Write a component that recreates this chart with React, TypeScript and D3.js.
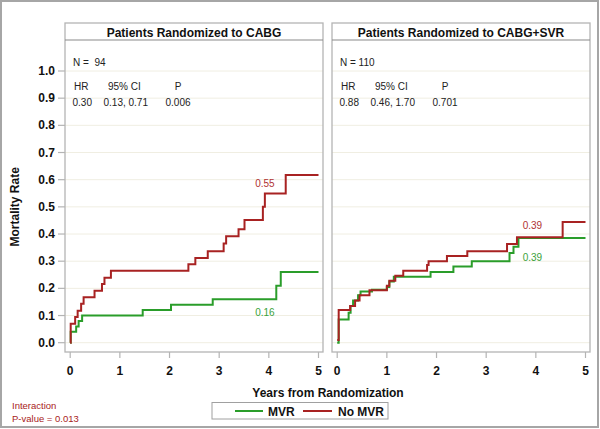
import React from 'react';
import * as d3 from 'd3';

// Kaplan-Meier style step data
const cabgMvrTimes = [0, 0.01, 0.12, 0.17, 0.24, 1.46, 2.03, 2.87, 4.15, 4.24, 5.0];
const cabgMvrRates = [0, 0.04, 0.06, 0.08, 0.10, 0.12, 0.14, 0.16, 0.21, 0.26, 0.26];

const cabgNoMvrTimes = [0, 0.01, 0.10, 0.15, 0.22, 0.27, 0.49, 0.64, 0.69, 0.82, 2.38, 2.52, 2.77, 3.09, 3.14, 3.39, 3.51, 3.88, 3.92, 4.34, 5.0];
const cabgNoMvrRates = [0, 0.07, 0.095, 0.118, 0.143, 0.167, 0.191, 0.216, 0.239, 0.265, 0.289, 0.312, 0.337, 0.365, 0.392, 0.418, 0.452, 0.50, 0.549, 0.617, 0.617];

const svrMvrTimes = [0, 0.03, 0.23, 0.27, 0.32, 0.42, 0.47, 0.70, 1.0, 1.05, 1.14, 1.88, 2.34, 2.71, 3.47, 3.55, 3.65, 5.0];
const svrMvrRates = [0, 0.085, 0.11, 0.135, 0.155, 0.175, 0.188, 0.195, 0.205, 0.225, 0.243, 0.26, 0.28, 0.30, 0.33, 0.353, 0.385, 0.385];

const svrNoMvrTimes = [0, 0.03, 0.26, 0.36, 0.45, 0.65, 1.0, 1.05, 1.17, 1.33, 1.81, 1.84, 2.21, 2.62, 3.42, 3.62, 4.54, 5.0];
const svrNoMvrRates = [0.01, 0.12, 0.135, 0.155, 0.175, 0.193, 0.21, 0.228, 0.246, 0.265, 0.286, 0.30, 0.319, 0.337, 0.363, 0.388, 0.444, 0.444];

const xTicks = [0, 1, 2, 3, 4, 5];
const yTicks = [0, 0.1, 0.2, 0.3, 0.4, 0.5, 0.6, 0.7, 0.8, 0.9, 1.0];

const panelTitles = ['Patients Randomized to CABG', 'Patients Randomized to CABG+SVR'];
const panelN = ['N =  94', 'N = 110'];
const panelHR = ['0.30', '0.88'];
const panelCI = ['0.13, 0.71', '0.46, 1.70'];
const panelP = ['0.006', '0.701'];
// end-of-curve labels [x, y] in data units + text
const mvrLabels = [{ x: 3.92, y: 0.098, t: '0.16' }, { x: 3.93, y: 0.30, t: '0.39' }];
const noMvrLabels = [{ x: 3.92, y: 0.572, t: '0.55' }, { x: 3.93, y: 0.418, t: '0.39' }];

const RED = '#a82222';
const GREEN = '#2a9d2a';
const FONT = '"Liberation Sans", Arial, sans-serif';

const panelLefts = [65, 332];
const panelW = 258;
const boxTop = 23;
const headerBottom = 40;
const boxBottom = 352;

const yScale = d3.scaleLinear().domain([0, 1]).range([342.7, 71]);

const stepLine = (times: number[], rates: number[], x: d3.ScaleLinear<number, number>) =>
  d3.line<number>()
    .x((_, i) => x(times[i]))
    .y(d => yScale(d))
    .curve(d3.curveStepAfter)(rates) || '';

const Panel = ({ idx }: { idx: number }) => {
  const left = panelLefts[idx];
  const x = d3.scaleLinear().domain([0, 5]).range([left + 5.2, left + 253.5]);
  const mvr = idx === 0 ? [cabgMvrTimes, cabgMvrRates] : [svrMvrTimes, svrMvrRates];
  const nomvr = idx === 0 ? [cabgNoMvrTimes, cabgNoMvrRates] : [svrNoMvrTimes, svrNoMvrRates];
  return (
    <g>
      {yTicks.map(t => (
        <line key={t} x1={left} x2={left + panelW} y1={yScale(t)} y2={yScale(t)} stroke="#f0eee2" strokeWidth={1} />
      ))}
      <rect x={left} y={boxTop} width={panelW} height={boxBottom - boxTop} fill="none" stroke="#b4b4b4" strokeWidth={1.3} />
      <line x1={left} x2={left + panelW} y1={headerBottom} y2={headerBottom} stroke="#8a8a8a" strokeWidth={1.2} />
      <text x={left + panelW / 2} y={36.5} textAnchor="middle" fontSize={12} fontWeight="bold" fill="#111">{panelTitles[idx]}</text>

      <g fontSize={10} fill="#222">
        <text x={left + 8} y={66} xmlSpace="preserve">{panelN[idx]}</text>
        <text x={left + 9} y={90}>HR</text>
        <text x={left + 43} y={90}>95% CI</text>
        <text x={left + 113} y={90} textAnchor="middle">P</text>
        <text x={left + 7.5} y={106}>{panelHR[idx]}</text>
        <text x={left + 38.5} y={106}>{panelCI[idx]}</text>
        <text x={left + 100.5} y={106}>{panelP[idx]}</text>
      </g>

      <path d={stepLine(mvr[0], mvr[1], x)} fill="none" stroke={GREEN} strokeWidth={2} />
      <path d={stepLine(nomvr[0], nomvr[1], x)} fill="none" stroke={RED} strokeWidth={2} />

      <text x={x(mvrLabels[idx].x)} y={yScale(mvrLabels[idx].y)} textAnchor="middle" fontSize={10} fill="#3aa23a">{mvrLabels[idx].t}</text>
      <text x={x(noMvrLabels[idx].x)} y={yScale(noMvrLabels[idx].y)} textAnchor="middle" fontSize={10} fill="#b03232">{noMvrLabels[idx].t}</text>

      {xTicks.map(t => (
        <g key={t}>
          <line x1={x(t)} x2={x(t)} y1={boxBottom} y2={boxBottom + 6} stroke="#b4b4b4" strokeWidth={1.2} />
          <text x={x(t)} y={375} textAnchor="middle" fontSize={12} fontWeight="bold" fill="#111">{t}</text>
        </g>
      ))}
    </g>
  );
};

const App = () => {
  return (
    <div style={{ position: 'absolute', left: 0, top: 0 }}>
      <svg width={600} height={429} style={{ display: 'block', fontFamily: FONT }}>
        <rect x={0} y={0} width={600} height={429} fill="#fff" />
        <rect x={1} y={1} width={597} height={426} fill="none" stroke="#a6a6a6" strokeWidth={2} />

        {yTicks.map(t => (
          <g key={t}>
            <line x1={58} x2={65} y1={yScale(t)} y2={yScale(t)} stroke="#b4b4b4" strokeWidth={1.2} />
            <text x={55} y={yScale(t) + 4} textAnchor="end" fontSize={12} fontWeight="bold" fill="#111">{t.toFixed(1)}</text>
          </g>
        ))}
        <text transform={`translate(19,${yScale(0.5)}) rotate(-90)`} textAnchor="middle" fontSize={12} fontWeight="bold" fill="#111">Mortality Rate</text>

        <Panel idx={0} />
        <Panel idx={1} />

        <text x={328} y={397} textAnchor="middle" fontSize={12} fontWeight="bold" fill="#111">Years from Randomization</text>

        <rect x={212} y={402.5} width={176} height={16.5} fill="#fff" stroke="#a0a0a0" strokeWidth={1} />
        <line x1={235} x2={263} y1={411} y2={411} stroke={GREEN} strokeWidth={2} />
        <text x={268} y={415.5} fontSize={12} fontWeight="bold" fill="#111">MVR</text>
        <line x1={303} x2={332} y1={411} y2={411} stroke={RED} strokeWidth={2} />
        <text x={338} y={415.5} fontSize={12} fontWeight="bold" fill="#111">No MVR</text>

        <text x={12} y={409} fontSize={9.5} fill="#a82222">Interaction</text>
        <text x={12} y={422} fontSize={9.5} fill="#a82222">P-value = 0.013</text>
      </svg>
    </div>
  );
};

export default App;
